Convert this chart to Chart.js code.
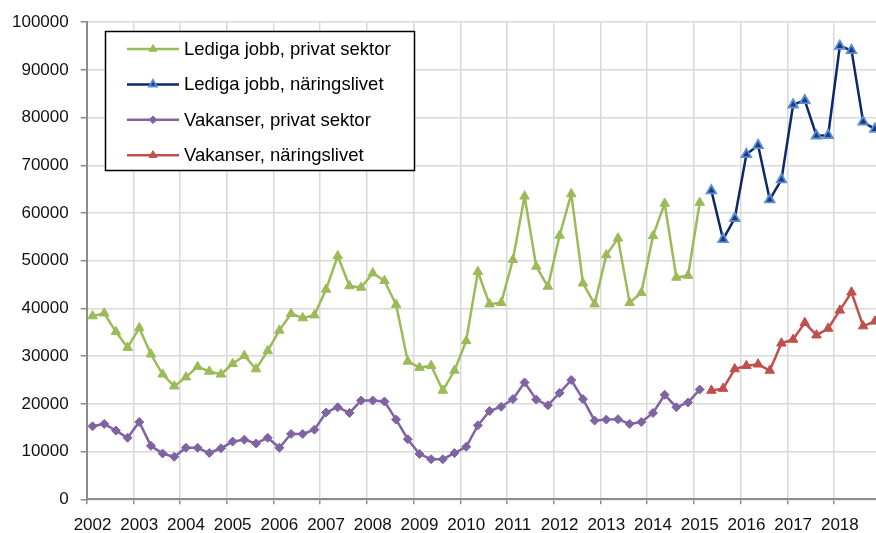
<!DOCTYPE html>
<html lang="sv">
<head>
<meta charset="utf-8">
<title>Lediga jobb och vakanser</title>
<script src="https://cdn.jsdelivr.net/npm/chart.js@4/dist/chart.umd.min.js"></script>
<style>
  html, body { margin: 0; padding: 0; background: #fff; overflow: hidden; }
  #wrap { position: relative; width: 888px; height: 533px; }
  canvas { display: block; }
</style>
</head>
<body>
<div id="wrap"><canvas id="chart" width="888" height="533"></canvas></div>
<script>
/* ---------- DATA ---------- */
const years = [2002, 2003, 2004, 2005, 2006, 2007, 2008, 2009, 2010,
  2011, 2012, 2013, 2014, 2015, 2016, 2017, 2018];
const quarters = ["K1", "K2", "K3", "K4"];

// 2002K1 - 2015K1
const ledigaPrivat = [
  38400, 39000, 35100, 31800, 35900, 30400, 26200, 23700,
  25600, 27800, 26800, 26200, 28400, 30100, 27300, 31100,
  35400, 38900, 38000, 38600, 44000, 51000, 44700, 44400,
  47400, 45800, 40800, 28900, 27600, 28000, 22800, 27000,
  33200, 47700, 40900, 41200, 50200, 63500, 48800, 44600,
  55300, 64000, 45300, 40900, 51200, 54700, 41200, 43300,
  55200, 62000, 46500, 46900, 62200,
];
const vakanserPrivat = [
  15300, 15800, 14400, 12900, 16200, 11200, 9600, 8900,
  10800, 10800, 9700, 10700, 12100, 12500, 11700, 12900,
  10800, 13700, 13700, 14600, 18200, 19300, 18100, 20700,
  20700, 20500, 16700, 12600, 9500, 8400, 8400, 9700,
  11000, 15500, 18500, 19400, 21000, 24500, 20900, 19700,
  22300, 25000, 21000, 16500, 16700, 16800, 15800, 16200,
  18100, 21900, 19300, 20300, 23000,
];
// 2015K2 - 2018K4
const ledigaNaringsliv = [
  64700, 54500, 58900, 72300, 74200, 62800, 67000, 82700,
  83600, 76200, 76300, 95000, 94100, 79100, 77600,
];
const vakanserNaringsliv = [
  22800, 23200, 27300, 28000, 28300, 27000, 32700, 33500,
  37000, 34400, 35800, 39600, 43400, 36300, 37300,
];

const yTicks = { min: 0, max: 100000, step: 10000 };

/* ---------- BUILD ---------- */
const categories = [];
years.forEach((y) => quarters.forEach((q) => categories.push(y + q)));

const padTail = (arr) => arr.concat(Array(categories.length - arr.length).fill(null));
const padHead = (arr) => Array(categories.length - arr.length).fill(null).concat(arr);

const GRID = "#d9d9d9";
const AXIS = "#8c8c8c";

const series = [
  { label: "Lediga jobb, privat sektor", data: padTail(ledigaPrivat),
    color: "#9bbb59", fill: "#9bbb59", border: "#9bbb59", style: "triangle", r: 5.5, bw: 1 },
  { label: "Lediga jobb, näringslivet", data: padHead(ledigaNaringsliv),
    color: "#0c2868", fill: "#1b3c82", border: "#5b8ed6", style: "triangle", r: 5.5, bw: 1.8 },
  { label: "Vakanser, privat sektor", data: padTail(vakanserPrivat),
    color: "#8064a2", fill: "#8064a2", border: "#8064a2", style: "rectRot", r: 4.5, bw: 1 },
  { label: "Vakanser, näringslivet", data: padHead(vakanserNaringsliv),
    color: "#c0504d", fill: "#c0504d", border: "#c0504d", style: "triangle", r: 5.5, bw: 1 },
];

/* ---------- LEGEND BOX ---------- */
function drawMarker(ctx, style, r, x, y) {
  if (Chart.helpers && Chart.helpers.drawPoint) {
    Chart.helpers.drawPoint(ctx, { pointStyle: style, radius: r, rotation: 0, borderWidth: ctx.lineWidth }, x, y);
    return;
  }
  ctx.beginPath();
  if (style === "rectRot") {
    ctx.moveTo(x, y - r); ctx.lineTo(x + r, y); ctx.lineTo(x, y + r); ctx.lineTo(x - r, y);
  } else {
    ctx.moveTo(x, y - r); ctx.lineTo(x + r * 0.866, y + r / 2); ctx.lineTo(x - r * 0.866, y + r / 2);
  }
  ctx.closePath(); ctx.fill(); ctx.stroke();
}

const legendBox = {
  id: "legendBox",
  afterDraw(chart) {
    const ctx = chart.ctx;
    ctx.save();
    ctx.fillStyle = "#fff";
    ctx.strokeStyle = "#000";
    ctx.lineWidth = 1.5;
    ctx.fillRect(105.5, 31.5, 309, 139);
    ctx.strokeRect(105.5, 31.5, 309, 139);
    series.forEach((s, i) => {
      const y = 49 + i * 35.4;
      ctx.strokeStyle = s.color;
      ctx.lineWidth = 2.5;
      ctx.beginPath();
      ctx.moveTo(127, y);
      ctx.lineTo(179, y);
      ctx.stroke();
      ctx.fillStyle = s.fill;
      ctx.strokeStyle = s.border;
      ctx.lineWidth = s.bw;
      drawMarker(ctx, s.style, s.style === "rectRot" ? 3.8 : 4.5, 153, y);
      ctx.fillStyle = "#000";
      ctx.font = "18.5px 'Liberation Sans', Arial, sans-serif";
      ctx.textBaseline = "middle";
      ctx.textAlign = "left";
      ctx.fillText(s.label, 184, y + 1);
    });
    ctx.restore();
  },
};

/* ---------- CHART ---------- */
new Chart(document.getElementById("chart"), {
  type: "line",
  data: {
    labels: categories,
    datasets: series.map((s) => ({
      label: s.label,
      data: s.data,
      borderColor: s.color,
      backgroundColor: s.fill,
      borderWidth: 2.5,
      pointStyle: s.style,
      pointRadius: s.r,
      pointBackgroundColor: s.fill,
      pointBorderColor: s.border,
      pointBorderWidth: s.bw,
      tension: 0,
      spanGaps: false,
    })),
  },
  options: {
    responsive: false,
    animation: false,
    layout: { padding: { top: 18, right: 0, bottom: 0, left: 0 } },
    plugins: { legend: { display: false }, tooltip: { enabled: false } },
    scales: {
      x: {
        offset: true,
        grid: {
          offset: true,
          lineWidth: 1.5,
          color: (c) => (c.index % 4 === 0 ? GRID : "rgba(0,0,0,0)"),
          tickColor: (c) => (c.index % 4 === 0 ? AXIS : "rgba(0,0,0,0)"),
          tickLength: 5,
        },
        border: { color: AXIS, width: 2 },
        ticks: {
          autoSkip: false,
          maxRotation: 0,
          minRotation: 0,
          padding: 11,
          color: "#111",
          font: { family: "'Liberation Sans', Arial, sans-serif", size: 17 },
          callback: (v, i) => (i % 4 === 0 ? String(years[i / 4]) : ""),
        },
        afterFit: (scale) => { scale.height = 33.7; },
      },
      y: {
        min: yTicks.min,
        max: yTicks.max,
        grid: { color: GRID, lineWidth: 1.5, tickColor: AXIS, tickLength: 6 },
        border: { color: AXIS, width: 2 },
        ticks: {
          stepSize: yTicks.step,
          padding: 12,
          color: "#111",
          font: { family: "'Liberation Sans', Arial, sans-serif", size: 17 },
          callback: (v) => String(v),
        },
        afterFit: (scale) => { scale.width = 86.7; },
      },
    },
  },
  plugins: [legendBox],
});
</script>
</body>
</html>
